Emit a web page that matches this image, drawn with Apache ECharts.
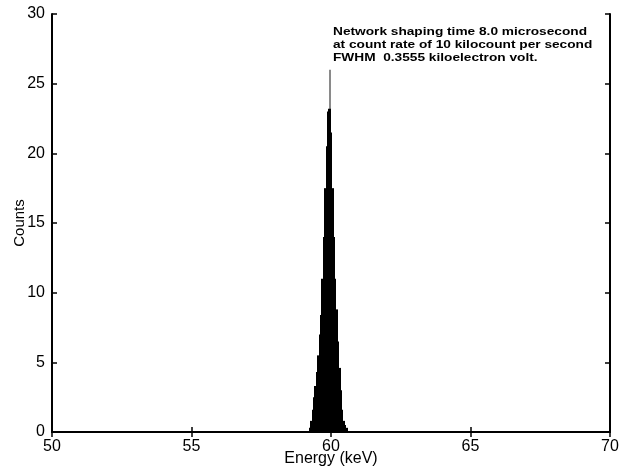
<!DOCTYPE html>
<html>
<head>
<meta charset="utf-8">
<script src="https://cdn.jsdelivr.net/npm/echarts@6/dist/echarts.min.js"></script>
<style>
  html, body { margin: 0; padding: 0; background: #fff; }
  #chart { width: 625px; height: 472px; }
</style>
</head>
<body>
<div id="chart"></div>
<script>
// histogram bins, keV centres and counts
const binWidth = 0.05;
const energies = [59.25, 59.30, 59.35, 59.40, 59.45, 59.50, 59.55, 59.60, 59.65, 59.70,
  59.75, 59.80, 59.85, 59.90, 59.95, 60.00, 60.05, 60.10, 60.15, 60.20,
  60.25, 60.30, 60.35, 60.40, 60.45, 60.50, 60.55];
const counts = [0.3, 0.8, 1.6, 2.5, 3.3, 4.3, 5.5, 7.0, 8.4, 11,
  14, 17.5, 20.5, 23, 23.2, 21.5, 17.5, 14, 11, 8.8,
  6.5, 4.6, 3.0, 1.6, 0.8, 0.5, 0.3];
// thin spike at the top of the peak
const spike = [[59.96, 26]];
const xTicks = [50, 55, 60, 65, 70];
const yTicks = [0, 5, 10, 15, 20, 25, 30];
const note = [
  'Network shaping time 8.0 microsecond',
  'at count rate of 10 kilocount per second',
  'FWHM  0.3555 kiloelectron volt.'
];

const chart = echarts.init(document.getElementById('chart'));
const font = 'Liberation Sans, Arial, sans-serif';
const lineColor = '#000';

// one rect per bin, snapped to whole pixels so neighbours touch
const rectItem = (w, color) => function (params, api) {
  const e = api.value(0);
  const c = api.value(1);
  const p1 = api.coord([e - w / 2, c]);
  const p2 = api.coord([e + w / 2, 0]);
  const x0 = Math.floor(p1[0]);
  const x1 = Math.max(Math.ceil(p2[0]), x0 + 1);
  return {
    type: 'rect',
    shape: { x: x0, y: p1[1], width: x1 - x0, height: p2[1] - p1[1] },
    style: { fill: color }
  };
};

const axisBase = {
  type: 'value',
  axisLine: { show: true, lineStyle: { color: lineColor, width: 2 } },
  axisTick: { show: true, inside: true, length: 5, lineStyle: { color: lineColor, width: 1.5 } },
  splitLine: { show: false }
};

const option = {
  animation: false,
  grid: { left: 52, right: 15, top: 14, bottom: 40, outerBoundsMode: 'none', containLabel: false },
  xAxis: [
    Object.assign({}, axisBase, {
      min: 50, max: 70, interval: 5,
      name: 'Energy (keV)', nameLocation: 'middle', nameGap: 19, nameMoveOverlap: false,
      nameTextStyle: { color: '#000', fontSize: 16, fontFamily: font },
      axisLabel: { color: '#000', fontSize: 16, fontFamily: font, margin: 7,
        formatter: v => xTicks.includes(v) ? String(v) : '' }
    }),
    Object.assign({}, axisBase, {
      min: 50, max: 70, interval: 5, position: 'top',
      axisLabel: { show: false }
    })
  ],
  yAxis: [
    Object.assign({}, axisBase, {
      min: 0, max: 30, interval: 5,
      name: 'Counts', nameLocation: 'middle', nameGap: 25, nameRotate: 90, nameMoveOverlap: false,
      nameTextStyle: { color: '#000', fontSize: 15, fontFamily: font },
      axisLabel: { color: '#000', fontSize: 16, fontFamily: font, margin: 7,
        formatter: v => yTicks.includes(v) ? String(v) : '' }
    }),
    Object.assign({}, axisBase, {
      min: 0, max: 30, interval: 5, position: 'right',
      axisLabel: { show: false }
    })
  ],
  series: [
    {
      type: 'custom',
      renderItem: rectItem(binWidth, '#000'),
      encode: { x: 0, y: 1 },
      data: energies.map((e, i) => [e, counts[i]]),
      z: 3
    },
    {
      type: 'custom',
      renderItem: rectItem(0.02, '#8a8a8a'),
      encode: { x: 0, y: 1 },
      data: spike,
      z: 2
    }
  ],
  graphic: [
    {
      type: 'text',
      x: 333,
      y: 25,
      scaleX: 1.19,
      style: {
        text: note.join('\n'),
        font: 'bold 11.5px ' + font,
        lineHeight: 13,
        verticalAlign: 'top',
        fill: '#000'
      }
    }
  ]
};

chart.setOption(option);
</script>
</body>
</html>
